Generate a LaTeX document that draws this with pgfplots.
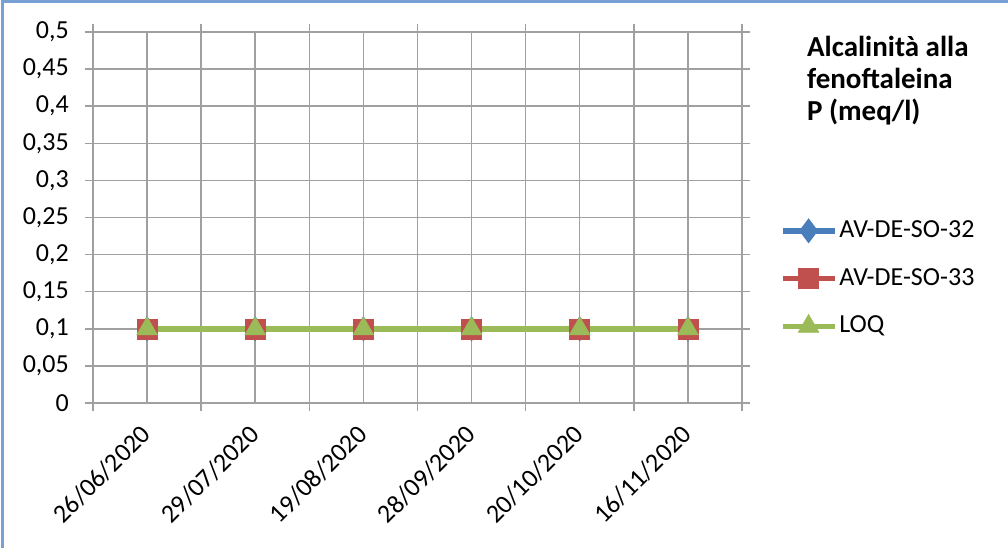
\documentclass[border=0pt]{standalone}
\usepackage{pgfplots}
\pgfplotsset{compat=1.18}
\usepackage{fontspec}
\setmainfont{Carlito}
\definecolor{sblue}{RGB}{74,126,187}
\definecolor{sred}{RGB}{192,80,77}
\definecolor{sgreen}{RGB}{155,187,89}
\definecolor{gridc}{RGB}{160,160,160}
\definecolor{framec}{RGB}{120,160,212}
\begin{document}
\fontsize{26bp}{30bp}\selectfont
\begin{tikzpicture}
\path[use as bounding box] (0,0) rectangle (1008bp,548bp);
\draw[framec, line width=2.5bp] (2.5bp,0) -- (2.5bp,546.5bp) -- (1008bp,546.5bp);
\begin{axis}[
  at={(93bp,145bp)}, anchor=south west,
  scale only axis, width=649bp, height=371bp,
  xmin=0.5, xmax=6.5, ymin=0, ymax=0.5,
  xtick={0.5,1.5,2.5,3.5,4.5,5.5,6.5},
  xticklabels={,,,,,,},
  extra x ticks={1,2,3,4,5,6},
  extra x tick labels={26/06/2020,29/07/2020,19/08/2020,28/09/2020,20/10/2020,16/11/2020},
  extra x tick style={major tick length=0pt, grid=major},
  ytick={0,0.05,0.1,0.15,0.2,0.25,0.3,0.35,0.4,0.45,0.5},
  yticklabels={0,{0,05},{0,1},{0,15},{0,2},{0,25},{0,3},{0,35},{0,4},{0,45},{0,5}},
  scaled y ticks=false,
  xticklabel style={rotate=45, anchor=east, inner sep=1bp},
  xticklabel shift=26bp,
  yticklabel style={anchor=east, inner xsep=16bp},
  grid=major,
  major grid style={gridc, line width=1.5bp},
  axis line style={gridc, line width=1.5bp},
  tick style={gridc, line width=1.5bp},
  tick align=outside,
  major tick length=8bp,
  tick label style={font=\fontsize{26bp}{30bp}\selectfont},
  legend style={at={(axis description cs:1.058,0.498)}, anchor=north west, draw=none, fill=none,
    font=\fontsize{26bp}{30bp}\selectfont, row sep=23bp, inner sep=0pt},
  legend cell align=left,
  legend image code/.code={\draw[mark repeat=2,mark phase=2] plot coordinates {(0bp,0bp)(26bp,0bp)(52bp,0bp)};},
  clip=false,
]
\addplot[sblue, line width=5.5bp, mark=diamond*, mark size=8bp, mark options={solid}] coordinates {(1,0.1)(2,0.1)(3,0.1)(4,0.1)(5,0.1)(6,0.1)};
\addlegendentry{AV-DE-SO-32}
\addplot[sred, line width=5.5bp, mark=square*, mark size=10bp, mark options={solid, line width=0.5bp}] coordinates {(1,0.1)(2,0.1)(3,0.1)(4,0.1)(5,0.1)(6,0.1)};
\addlegendentry{AV-DE-SO-33}
\addplot[sgreen, line width=5.5bp, mark=triangle*, mark size=12bp, mark options={solid, line width=0.5bp}] coordinates {(1,0.1)(2,0.1)(3,0.1)(4,0.1)(5,0.1)(6,0.1)};
\addlegendentry{LOQ}
\node[anchor=north west, align=left, font=\bfseries\fontsize{29bp}{32bp}\selectfont, inner sep=0pt] at (axis description cs:1.10,0.99) {Alcalinità alla\\fenoftaleina\\P (meq/l)};
\end{axis}
\end{tikzpicture}
\end{document}
